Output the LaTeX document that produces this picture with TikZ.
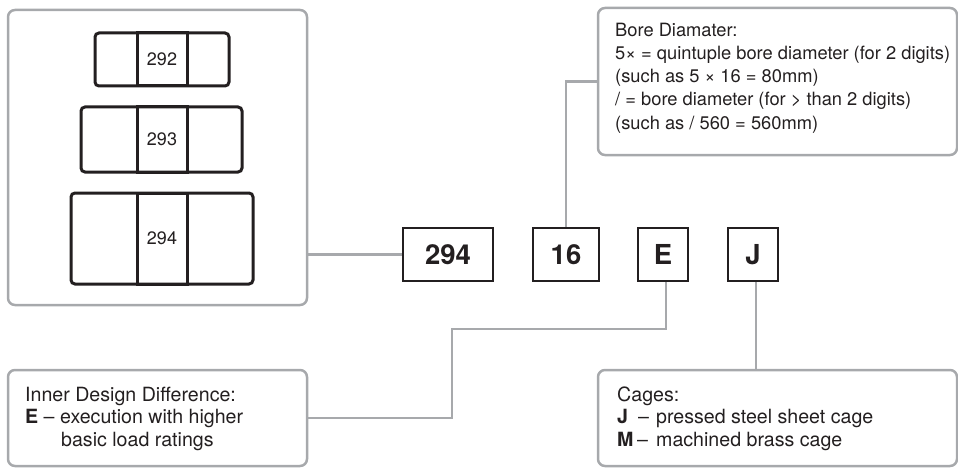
\documentclass[tikz,border=0pt]{standalone}
\usepackage{fontspec}
\setmainfont{TeX Gyre Heros}
\definecolor{lgray}{HTML}{A7A9AC}
\definecolor{ink}{HTML}{231F20}
\begin{document}
\begin{tikzpicture}[x=1pt,y=-1pt,
  gline/.style={draw=lgray, line width=2.5pt},
  gbox/.style={draw=lgray, line width=2.5pt, rounded corners=7pt, inner sep=0},
  kbox/.style={draw=ink, line width=2pt, inner sep=0, minimum height=53pt, text=ink, font=\fontsize{27.5}{30}\selectfont\bfseries},
  brg/.style={draw=ink, line width=3pt, rounded corners=4pt, inner sep=0},
  strip/.style={draw=ink, line width=3pt, inner sep=0, minimum width=50pt, text=ink, font=\fontsize{18}{20}\selectfont},
  btxt/.style={anchor=base west, inner sep=0, text=ink, font=\fontsize{18.3}{20}\selectfont},
  ltxt/.style={anchor=base west, inner sep=0, text=ink, font=\fontsize{19.6}{22}\selectfont},
]
\useasboundingbox (0,0) rectangle (958,468);

% big left box with bearings
\node[gbox, minimum width=299pt, minimum height=295pt] (big) at (157.5,157.5) {};
\node[brg, minimum width=134pt, minimum height=53pt] (o292) at (162,59.5) {};
\node[strip, minimum height=53pt] (b292) at (162,59.5) {292};
\node[brg, minimum width=161pt, minimum height=65pt] (o293) at (161.5,139.5) {};
\node[strip, minimum height=65pt] (b293) at (162,139.5) {293};
\node[brg, minimum width=182pt, minimum height=91pt] (o294) at (162,238.5) {};
\node[strip, minimum height=91pt] (b294) at (162,238.5) {294};

% code boxes
\node[kbox, minimum width=90pt] (n294) at (448,254.5) {294};
\node[kbox, minimum width=66pt] (n16) at (566,254.5) {16};
\node[kbox, minimum width=50pt] (nE) at (663,254.5) {E};
\node[kbox, minimum width=50pt] (nJ) at (753,254.5) {J};

% bore box
\node[gbox, minimum width=359pt, minimum height=147pt] (bore) at (777.5,81.5) {};
\node[btxt] (bt1) at (615,37) {Bore Diamater:};
\node[btxt] (bt2) at (615,60) {5× = quintuple bore diameter (for 2 digits)};
\node[btxt] (bt3) at (615,83) {(such as 5 × 16 = 80mm)};
\node[btxt] (bt4) at (615,106) {/ = bore diameter (for > than 2 digits)};
\node[btxt] (bt5) at (615,129) {(such as / 560 = 560mm)};

% inner design box
\node[gbox, minimum width=299pt, minimum height=96pt] (inner) at (157.5,418) {};
\node[ltxt] (it1) at (25,401) {Inner Design Difference:};
\node[ltxt] (it2) at (25,423) {\textbf{E} –};
\node[ltxt] (it3) at (60,423) {execution with higher};
\node[ltxt] (it4) at (61,446) {basic load ratings};

% cages box
\node[gbox, minimum width=359pt, minimum height=96pt] (cages) at (777.5,418) {};
\node[ltxt] (ct1) at (617,401) {Cages:};
\node[ltxt] (ct2) at (617,423) {\textbf{J}};
\node[ltxt] (ct3) at (638,423) {–};
\node[ltxt] (ct4) at (656,423) {pressed steel sheet cage};
\node[ltxt] (ct5) at (617,446) {\textbf{M}};
\node[ltxt] (ct6) at (637,446) {–};
\node[ltxt] (ct7) at (656,446) {machined brass cage};

% connectors
\coordinate (bend) at (452,329);
\draw[gline] (big.east |- n294.west) -- (n294.west);
\draw[gline] (n16.north) |- (bore.west);
\draw[gline] ([xshift=3pt]nE.south) |- (bend) |- (inner.east);
\draw[gline] ([xshift=3pt]nJ.south) -- ([xshift=3pt]nJ.south |- cages.north);
\end{tikzpicture}
\end{document}
